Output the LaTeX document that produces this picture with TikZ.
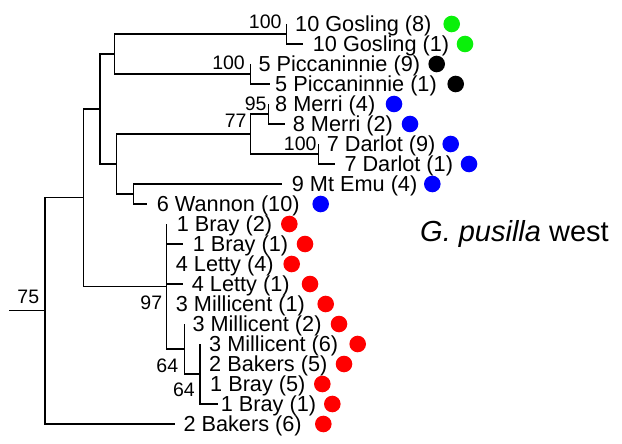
\documentclass[tikz,border=0pt]{standalone}
\usepackage{fontspec}
\setmainfont{Liberation Sans}
\definecolor{gre}{RGB}{10,240,10}
\definecolor{blu}{RGB}{0,0,255}
\definecolor{redd}{RGB}{255,0,0}
\definecolor{blk}{RGB}{0,0,0}
\begin{document}
\begin{tikzpicture}[x=1pt,y=-1pt,
  br/.style={line width=1.3pt},
  leaf/.style={anchor=base west, inner sep=0pt, font=\fontsize{21.7}{24}\selectfont},
  bs/.style={anchor=east, inner sep=0pt, font=\fontsize{19.5}{21}\selectfont},
  dot/.style={circle, inner sep=0pt, minimum size=16.6pt, draw=none}]
\useasboundingbox (0,0) rectangle (622,444);
% leaves: index / row y / tip x / label x / dot x / colour / text
\foreach \i/\y/\tx/\lx/\dx/\c/\t in {
  0/24/286.7/295/451.7/gre/{10 Gosling (8)},
  1/44/303.3/312.7/465/gre/{10 Gosling (1)},
  2/64/250.7/258.3/436.7/blk/{5 Piccaninnie (9)},
  3/84/270/275/455.7/blk/{5 Piccaninnie (1)},
  4/104/268.3/275/394/blu/{8 Merri (4)},
  5/124/285/292.7/410/blu/{8 Merri (2)},
  6/144/318.3/326.7/450.7/blu/{7 Darlot (9)},
  7/164/335/344.3/469/blu/{7 Darlot (1)},
  8/184/281.7/291.7/432.3/blu/{9 Mt Emu (4)},
  9/204/146.7/156.7/320.7/blu/{6 Wannon (10)},
  10/224/166.7/176.7/289.3/redd/{1 Bray (2)},
  11/244/183/192.7/305/redd/{1 Bray (1)},
  12/264/166.7/175.7/291.7/redd/{4 Letty (4)},
  13/284/183/191.7/310/redd/{4 Letty (1)},
  14/304/166.7/175.7/325.7/redd/{3 Millicent (1)},
  15/324/184.3/192.3/339/redd/{3 Millicent (2)},
  16/344/200/209/357.7/redd/{3 Millicent (6)},
  17/364/200/209/344/redd/{2 Bakers (5)},
  18/384/200/210/322.3/redd/{1 Bray (5)},
  19/404/218.3/220.7/332.3/redd/{1 Bray (1)},
  20/424/175/183.3/323.3/redd/{2 Bakers (6)}}{
  \coordinate (t\i) at (\tx,\y);
  \node[leaf] (l\i) at (\lx,\y+7.7) {\t};
  \node[dot, fill=\c] (d\i) at (\dx,\y) {};
}
% internal nodes
\coordinate (Gos) at (286.7,34);
\coordinate (Pic) at (250.7,74);
\coordinate (E)   at (114.3,54);
\coordinate (Mer) at (268.3,114);
\coordinate (Dar) at (318.3,154);
\coordinate (G77) at (250.7,134);
\coordinate (H)   at (133.3,194);
\coordinate (F)   at (116.7,164);
\coordinate (D)   at (100,109);
\coordinate (C64) at (200,374);
\coordinate (B64) at (184.3,349);
\coordinate (P97) at (166.7,286.2);
\coordinate (A)   at (83.3,197.6);
\coordinate (R)   at (45,310.8);
\coordinate (R0)  at (9,310.8);
% branches
\draw[br] (t0) -| (Gos) |- (t1);
\draw[br] (t2) -| (Pic) |- (t3);
\draw[br] (Gos) -| (E) |- (Pic);
\draw[br] (t4) -| (Mer) |- (t5);
\draw[br] (t6) -| (Dar) |- (t7);
\draw[br] (Mer) -| (G77) |- (Dar);
\draw[br] (t8) -| (H) |- (t9);
\draw[br] (G77) -| (F) |- (H);
\draw[br] (E) -| (D) |- (F);
\draw[br] (t16) |- (t19);
\draw[br] (t15) |- (C64);
\draw[br] (t10) |- (B64);
\draw[br] (t11 -| t10) -- (t11);
\draw[br] (t13 -| t10) -- (t13);
\draw[br] (D) -| (A) |- (P97);
\draw[br] (A) -| (R) |- (t20);
\draw[br] (R0) -- (R);
% support values
\node[bs] (bGos) at (281.7,21.7) {100};
\node[bs] (bPic) at (245,62.7) {100};
\node[bs] (bMer) at (266.7,103.3) {95};
\node[bs] (b77)  at (246.7,120.7) {77};
\node[bs] (bDar) at (316.7,143.3) {100};
\node[bs] (b97)  at (162.3,302.7) {97};
\node[bs] (bB)   at (178.3,365.7) {64};
\node[bs] (bC)   at (195,390) {64};
\node[bs] (bR)   at (39.3,296.7) {75};
% title
\node[anchor=base west, inner sep=0pt, font=\fontsize{29}{32}\selectfont] (title) at (420,241.7) {\textit{G. pusilla} west};
\end{tikzpicture}
\end{document}
